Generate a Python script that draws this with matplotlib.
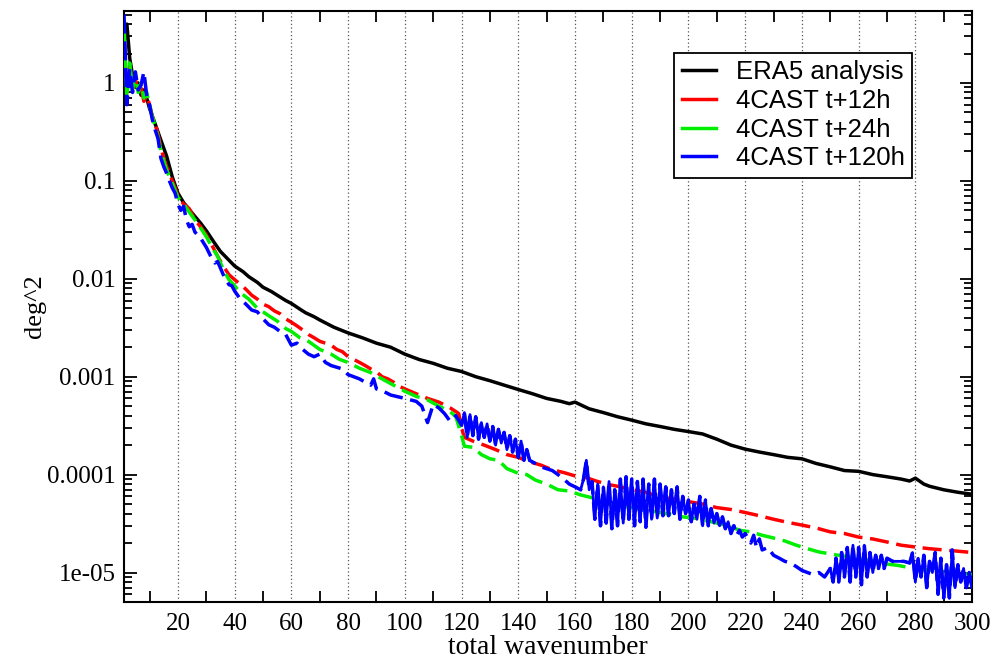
import numpy as np
import matplotlib
matplotlib.use("Agg")
import matplotlib.pyplot as plt
from matplotlib.ticker import MultipleLocator, LogLocator, NullFormatter
from matplotlib.lines import Line2D

# values (deg^2 vs total wavenumber)
era5_k = [1, 2, 3, 4, 5, 6, 7, 8, 9, 10, 12, 14, 16, 18, 20, 22, 25, 28, 30, 33, 35, 38, 40,
          43, 45, 48, 50, 53, 55, 58, 60, 63, 65, 68, 70, 75, 80, 85, 90, 95, 100, 105, 110,
          115, 120, 125, 130, 135, 140, 145, 150, 155, 158, 160, 163, 165, 170, 175, 180, 185,
          190, 195, 200, 205, 210, 215, 220, 225, 230, 235, 240, 245, 250, 255, 260, 265, 270,
          275, 278, 280, 283, 285, 290, 295, 300]
era5_val = [2.5, 4.0, 1.8, 1.2, 0.9, 1.0, 0.75, 0.85, 0.7, 0.55, 0.38, 0.26, 0.18, 0.11, 0.075,
            0.06, 0.047, 0.037, 0.031, 0.023, 0.019, 0.0155, 0.0135, 0.0118, 0.0105, 0.0092,
            0.0082, 0.0074, 0.0068, 0.006, 0.0056, 0.0049, 0.0045, 0.0041, 0.0038, 0.0032,
            0.0028, 0.0025, 0.0022, 0.002, 0.0017, 0.0015, 0.00137, 0.00122, 0.00113, 0.001,
            0.00091, 0.00082, 0.00074, 0.00067, 0.0006, 0.00056, 0.00053, 0.00055, 0.0005,
            0.00047, 0.00043, 0.00039, 0.00036, 0.00033, 0.00031, 0.00029, 0.000275, 0.00026,
            0.00023, 0.0002, 0.000182, 0.00017, 0.00016, 0.00015, 0.000145, 0.00013, 0.00012,
            0.00011, 0.000108, 0.0001, 9.5e-5, 9e-5, 8.6e-5, 9.2e-5, 8e-5, 7.6e-5, 7e-5,
            6.6e-5, 6.3e-5]

t12_k = [1, 2, 3, 4, 5, 6, 7, 8, 9, 10, 11, 12, 13, 14, 15, 16, 17, 18, 19, 20, 22, 24, 26,
         28, 30, 32, 34, 36, 38, 40, 42, 44, 46, 48, 50, 52, 54, 56, 58, 60, 62, 64, 66, 68,
         70, 72, 74, 76, 78, 80, 82, 84, 86, 88, 90, 92, 94, 96, 98, 100, 104, 108, 112, 116,
         118, 119, 120, 121, 124, 128, 132, 136, 140, 144, 148, 152, 156, 160, 164, 168, 172,
         176, 180, 184, 188, 192, 196, 200, 205, 210, 215, 220, 225, 230, 235, 240, 245, 250,
         255, 260, 265, 270, 275, 280, 285, 290, 295, 300]
t12_val = [3.0, 0.8, 1.5, 0.9, 1.1, 0.8, 0.9, 0.65, 0.75, 0.6, 0.45, 0.38, 0.3, 0.22, 0.17,
           0.14, 0.12, 0.1, 0.085, 0.07, 0.058, 0.052, 0.04, 0.034, 0.028, 0.022, 0.017,
           0.0135, 0.011, 0.0098, 0.0088, 0.0078, 0.0068, 0.0062, 0.0055, 0.0052, 0.0047,
           0.0044, 0.0039, 0.0036, 0.0033, 0.003, 0.0027, 0.0025, 0.0023, 0.0022, 0.0021,
           0.0019, 0.0018, 0.0016, 0.0015, 0.0014, 0.0013, 0.0012, 0.00112, 0.001, 0.00095,
           0.00088, 0.0008, 0.00075, 0.00067, 0.0006, 0.00055, 0.00048, 0.00044, 0.00042,
           0.0003, 0.00024, 0.00022, 0.0002, 0.00018, 0.00016, 0.00015, 0.000135, 0.000125,
           0.000112, 0.000105, 9.7e-5, 9.3e-5, 8.5e-5, 7.9e-5, 7.5e-5, 7e-5, 6.7e-5, 6.2e-5,
           5.8e-5, 5.5e-5, 5.3e-5, 5.0e-5, 4.6e-5, 4.4e-5, 4.1e-5, 3.8e-5, 3.5e-5, 3.25e-5,
           3.05e-5, 2.85e-5, 2.6e-5, 2.5e-5, 2.3e-5, 2.2e-5, 2.05e-5, 1.9e-5, 1.82e-5,
           1.75e-5, 1.7e-5, 1.65e-5, 1.6e-5]

t24_k = [1, 2, 3, 4, 5, 6, 7, 8, 9, 10, 11, 12, 13, 14, 15, 16, 17, 18, 19, 20, 22, 24, 26,
         28, 30, 32, 34, 36, 38, 40, 42, 45, 48, 50, 52, 55, 58, 60, 63, 66, 70, 74, 77, 80,
         84, 88, 92, 96, 100, 104, 108, 112, 116, 118, 120, 121, 124, 127, 130, 133, 136, 140,
         143, 146, 150, 154, 158, 162, 166, 170, 174, 178, 182, 186, 190, 194, 198, 202, 206,
         210, 214, 218, 222, 226, 230, 234, 238, 242, 246, 250, 254, 258, 262, 266, 270, 274,
         278, 282, 286, 290, 294, 297, 300]
t24_val = [4.0, 0.7, 1.6, 0.85, 1.2, 0.8, 1.0, 0.7, 0.8, 0.6, 0.45, 0.36, 0.28, 0.2, 0.16,
           0.13, 0.11, 0.095, 0.08, 0.068, 0.058, 0.048, 0.04, 0.033, 0.027, 0.021, 0.017,
           0.0125, 0.0098, 0.0085, 0.0072, 0.0062, 0.005, 0.0046, 0.0042, 0.0037, 0.0031,
           0.0029, 0.0025, 0.0023, 0.0019, 0.0017, 0.0015, 0.0014, 0.00122, 0.0011, 0.00095,
           0.00082, 0.00071, 0.00063, 0.00058, 0.0005, 0.00044, 0.00039, 0.00025, 0.000195,
           0.00019, 0.00016, 0.000145, 0.00014, 0.000115, 0.000103, 0.0001, 8.8e-5, 8e-5,
           7e-5, 6.8e-5, 6.2e-5, 5.8e-5, 5.2e-5, 4.9e-5, 4.7e-5, 4.5e-5, 4.3e-5, 4.1e-5,
           3.9e-5, 3.7e-5, 3.6e-5, 3.4e-5, 3.2e-5, 3.0e-5, 2.7e-5, 2.6e-5, 2.4e-5, 2.25e-5,
           2.1e-5, 1.9e-5, 1.75e-5, 1.62e-5, 1.55e-5, 1.48e-5, 1.42e-5, 1.35e-5, 1.3e-5,
           1.22e-5, 1.18e-5, 1.12e-5, 1.08e-5, 1.05e-5, 1.02e-5, 1.0e-5, 9.8e-6, 9.5e-6]

t120_k = [1, 2, 3, 4, 5, 6, 7, 8, 9, 10, 11, 12, 13, 14, 15, 16, 17, 18, 19, 20, 21, 22, 23,
          24, 25, 26, 28, 30, 32, 33, 34, 36, 38, 39, 40, 42, 44, 46, 48, 50, 52, 54, 56, 58,
          60, 62, 64, 66, 68, 70, 72, 74, 76, 78, 80, 82, 84, 86, 88, 89, 90, 92, 95, 98, 100,
          102, 104, 106, 108, 110, 112, 114, 116, 118, 120,
          121, 122, 123, 124, 125, 126, 127, 128, 129, 130, 131, 132, 133, 134, 135, 136, 137,
          138, 139, 140, 141, 142, 143, 144, 146, 148, 150, 152, 154, 156, 158, 160, 162, 163,
          164, 165,
          166, 167, 168, 169, 170, 171, 172, 173, 174, 175, 176, 177, 178, 179, 180, 181, 182,
          183, 184, 185, 186, 187, 188, 189, 190, 191, 192, 193, 194, 195, 196, 197, 198, 199,
          200, 201, 202, 203, 204, 205, 206, 207, 208, 209, 210, 211, 212, 213, 214, 215, 216,
          217, 218, 219, 220, 222, 223, 224, 225, 226, 228, 230, 232, 234, 236, 238, 240, 242,
          244, 246, 248,
          250, 251, 252, 253, 254, 255, 256, 257, 258, 259, 260, 261, 262, 263, 264, 265, 266,
          267, 268, 269, 270, 272, 274, 276, 278, 279, 280, 281, 282, 283, 284, 285, 286, 287,
          288, 289, 290, 291, 292, 293, 294, 295, 296, 297, 298, 299, 300]
t120_val = [5.0, 0.6, 1.4, 0.8, 1.3, 0.85, 0.95, 1.3, 0.75, 0.6, 0.42, 0.33, 0.27, 0.17, 0.14,
            0.12, 0.1, 0.085, 0.075, 0.058, 0.05, 0.055, 0.04, 0.034, 0.036, 0.03, 0.026,
            0.021, 0.016, 0.0145, 0.015, 0.011, 0.0087, 0.0085, 0.0075, 0.0062, 0.0055, 0.0048,
            0.0046, 0.0039, 0.0034, 0.0032, 0.0029, 0.0027, 0.0021, 0.0022, 0.0019, 0.0017,
            0.0016, 0.0017, 0.0014, 0.0013, 0.00125, 0.0012, 0.00105, 0.001, 0.00095, 0.00088,
            0.00082, 0.00095, 0.00075, 0.00072, 0.00065, 0.00062, 0.0006, 0.00058, 0.00056,
            0.0005, 0.00034, 0.00052, 0.00048, 0.00042, 0.00035, 0.0004, 0.00032,
            0.00043, 0.00024, 0.00041, 0.00025, 0.00039, 0.00023, 0.00034, 0.00024, 0.00033,
            0.00022, 0.00031, 0.0002, 0.00029, 0.00021, 0.00027, 0.00018, 0.00025, 0.00017,
            0.00023, 0.00015, 0.00022, 0.00014, 0.00018, 0.00014, 0.00013, 0.00012, 0.000115,
            0.00011, 0.0001, 9e-5, 8e-5, 7.5e-5, 7e-5, 9e-5, 0.00014, 7e-5,
            8.5e-5, 3.5e-5, 8e-5, 3e-5, 7.5e-5, 3.2e-5, 8.5e-5, 2.8e-5, 7e-5, 3e-5, 9e-5,
            3.2e-5, 9.5e-5, 3.5e-5, 9e-5, 3e-5, 8.5e-5, 3.3e-5, 9e-5, 2.9e-5, 8e-5, 3.5e-5,
            9e-5, 3.6e-5, 8e-5, 3.8e-5, 7.5e-5, 3.8e-5, 7e-5, 4e-5, 7.5e-5, 3.5e-5, 6e-5, 4e-5,
            5.5e-5, 3.3e-5, 5e-5, 3.5e-5, 6e-5, 3e-5, 5.5e-5, 3e-5, 4.5e-5, 3.2e-5, 4e-5, 3e-5,
            3.7e-5, 2.8e-5, 3.3e-5, 2.5e-5, 3e-5, 2.4e-5, 2.7e-5, 2.3e-5, 2.5e-5, 2e-5, 2.4e-5,
            1.8e-5, 2.2e-5, 1.7e-5, 1.8e-5, 1.5e-5, 1.4e-5, 1.3e-5, 1.25e-5, 1.15e-5, 1.05e-5,
            1.0e-5, 9.5e-6, 1.0e-5, 9e-6,
            1.1e-5, 8e-6, 1.4e-5, 8e-6, 1.6e-5, 9e-6, 1.8e-5, 8e-6, 1.9e-5, 9e-6, 1.8e-5,
            7.5e-6, 1.9e-5, 9e-6, 1.6e-5, 1e-5, 1.5e-5, 1.1e-5, 1.5e-5, 1.1e-5, 1.4e-5, 1.3e-5,
            1.3e-5, 1.3e-5, 1.25e-5, 1.6e-5, 8e-6, 1.4e-5, 9e-6, 1.5e-5, 7e-6, 1.3e-5, 1e-5,
            1.6e-5, 6e-6, 1.4e-5, 5.5e-6, 1.2e-5, 5.5e-6, 1.7e-5, 7e-6, 1.2e-5, 8e-6, 1.1e-5,
            7e-6, 1e-5, 7e-6]

# wavenumber ranges where the t+120h curve is so noisy it looks solid
noisy_ranges = [(120, 145), (162, 216), (249, 300)]

serif = "Liberation Serif"
sans = "Liberation Sans"

fig = plt.figure(figsize=(9.97, 6.61), dpi=100)
ax = fig.add_axes([0.1244, 0.0893, 0.8506, 0.8948])

dash = (5.5, 2.2)
ax.plot(era5_k, era5_val, color="black", lw=2.5, zorder=3)
ax.plot(t12_k, t12_val, color="#ff0000", lw=2.5, dashes=dash, zorder=4)
ax.plot(t24_k, t24_val, color="#00ee00", lw=2.5, dashes=dash, zorder=5)
ax.plot(t120_k, t120_val, color="#0000ff", lw=2.5, dashes=dash, zorder=6)

k120 = np.array(t120_k)
v120 = np.array(t120_val)
for lo, hi in noisy_ranges:
    m = (k120 >= lo) & (k120 <= hi)
    ax.plot(k120[m], v120[m], color="#0000ff", lw=2.0, zorder=6)

ax.set_yscale("log")
ax.set_xlim(1, 300)
ax.set_ylim(5e-6, 5.5)

# x grid every 20, minor ticks every 10 (no visible major tick marks)
ax.xaxis.set_major_locator(MultipleLocator(20))
ax.xaxis.set_minor_locator(MultipleLocator(10))
ax.grid(axis="x", which="major", color="#555555", linestyle=(0, (1, 2)), lw=0.9, zorder=1)
ax.tick_params(axis="x", which="major", length=0, labelsize=18, pad=8)
ax.tick_params(axis="x", which="minor", direction="in", length=8, width=1.3, top=True)

ax.yaxis.set_minor_locator(LogLocator(base=10, subs=np.arange(2, 10), numticks=20))
ax.yaxis.set_minor_formatter(NullFormatter())
yticks = [1e-5, 1e-4, 1e-3, 1e-2, 1e-1, 1]
ax.set_yticks(yticks)
ax.set_yticklabels(["1e-05", "0.0001", "0.001", "0.01", "0.1", "1"])
ax.tick_params(axis="y", which="major", direction="in", length=9, width=1.3,
               right=True, labelsize=18, pad=6)
ax.tick_params(axis="y", which="minor", direction="in", length=6, width=1.3, right=True)

for lab in ax.get_xticklabels() + ax.get_yticklabels():
    lab.set_fontfamily(serif)

for s in ax.spines.values():
    s.set_linewidth(1.5)

ax.set_xlabel("total wavenumber", fontsize=20, family=serif, labelpad=0)
ax.set_ylabel("deg^2", fontsize=19, family=serif, labelpad=1)

handles = [Line2D([], [], color=c, lw=2.5) for c in ["black", "#ff0000", "#00ee00", "#0000ff"]]
labels = ["ERA5 analysis", "4CAST t+12h", "4CAST t+24h", "4CAST t+120h"]
leg = ax.legend(handles, labels, loc="upper left", bbox_to_anchor=(674 / 997, 1 - 52.7 / 661),
                bbox_transform=fig.transFigure, prop={"family": sans, "size": 18.5},
                fancybox=False, framealpha=1, edgecolor="black", handlelength=1.35,
                handletextpad=0.75, labelspacing=0.18, borderpad=0.3, borderaxespad=0)
leg.get_frame().set_linewidth(1.3)
leg.set_zorder(10)

fig.savefig("out.png", dpi=100)
